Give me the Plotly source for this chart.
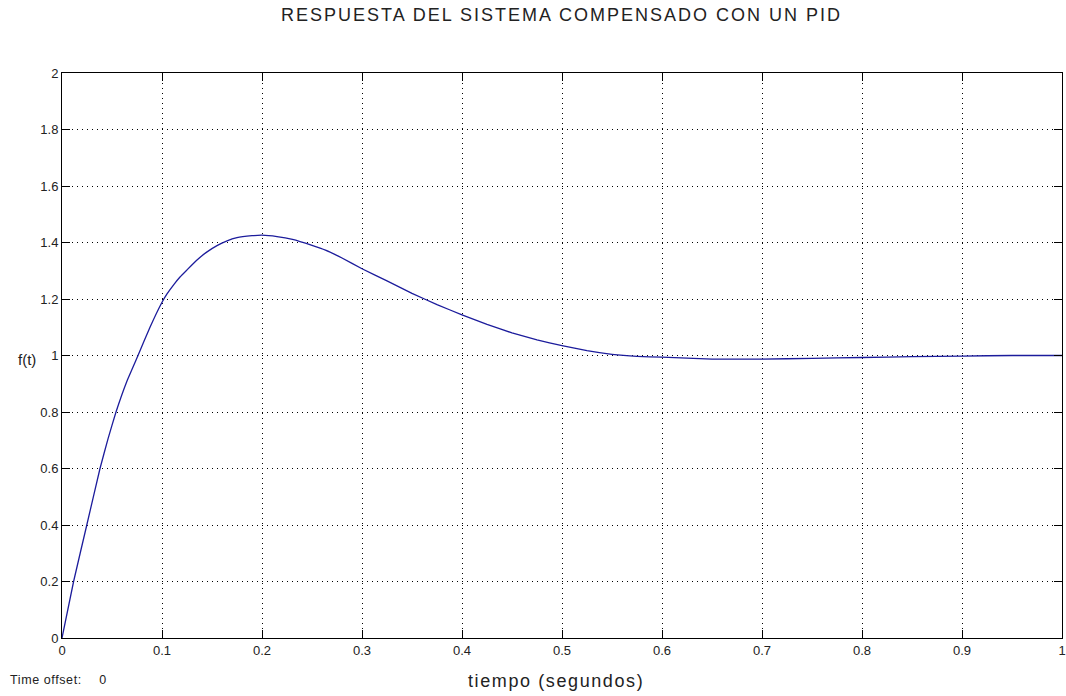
import plotly.graph_objects as go

tiempo = [0, 0.0116, 0.0248, 0.038, 0.046, 0.054, 0.065, 0.076, 0.088, 0.0995, 0.105, 0.112,
          0.118, 0.125, 0.135, 0.1447, 0.155, 0.1645, 0.175, 0.19, 0.2, 0.215, 0.2305, 0.25,
          0.2635, 0.28, 0.3, 0.325, 0.35, 0.375, 0.4, 0.425, 0.45, 0.475, 0.5, 0.525, 0.55,
          0.575, 0.6, 0.65, 0.7, 0.75, 0.8, 0.85, 0.9, 0.95, 1.0]
respuesta = [0, 0.2, 0.4, 0.6, 0.705, 0.8, 0.91, 1.0, 1.1, 1.185, 1.218, 1.252,
             1.278, 1.303, 1.338, 1.366, 1.389, 1.405, 1.417, 1.424, 1.426, 1.421, 1.411, 1.39,
             1.373, 1.345, 1.307, 1.264, 1.22, 1.18, 1.144, 1.11, 1.08,
             1.055, 1.035, 1.017, 1.004, 0.997, 0.994, 0.987, 0.987, 0.99, 0.993, 0.996, 0.998, 1.0, 1.0]

x_ticks = [0, 0.1, 0.2, 0.3, 0.4, 0.5, 0.6, 0.7, 0.8, 0.9, 1]
x_labels = ["0", "0.1", "0.2", "0.3", "0.4", "0.5", "0.6", "0.7", "0.8", "0.9", "1"]
y_ticks = [0, 0.2, 0.4, 0.6, 0.8, 1, 1.2, 1.4, 1.6, 1.8, 2]
y_labels = ["0", "0.2", "0.4", "0.6", "0.8", "1", "1.2", "1.4", "1.6", "1.8", "2"]

fig = go.Figure()
fig.add_trace(go.Scatter(x=tiempo, y=respuesta, mode="lines",
                         line=dict(color="#1c1c9c", width=1.3, shape="spline", smoothing=0.3),
                         hoverinfo="x+y", showlegend=False))

axis_common = dict(
    showline=True, linecolor="black", linewidth=1, mirror="allticks",
    ticks="inside", ticklen=8, tickcolor="black", tickwidth=1,
    showgrid=True, gridcolor="black", gridwidth=1, griddash="1px,4px",
    zeroline=False, ticklabeloverflow="allow",
    tickfont=dict(family="Liberation Sans, Arial", size=13, color="#222"),
)

fig.update_xaxes(range=[0, 1], tickvals=x_ticks, ticktext=x_labels, **axis_common)
fig.update_yaxes(range=[0, 2], tickvals=y_ticks, ticktext=y_labels, **axis_common)

W, H = 1066, 696
l, r, t, b = 62, 0, 73, 58
fig.update_layout(
    width=W, height=H,
    margin=dict(l=l, r=r, t=t, b=b),
    paper_bgcolor="white", plot_bgcolor="white",
    font=dict(family="Liberation Sans, Arial", color="#222"),
)
pw, ph = W - l - 3, H - t - b


def px(x):
    return (x - l) / pw


def py(y):
    return (H - b - y) / ph


def spaced(txt, sp):
    return '<span style="letter-spacing:%spx">%s</span>' % (sp, txt)


fig.add_annotation(text=spaced("RESPUESTA DEL SISTEMA COMPENSADO CON UN PID", 2.0),
                   x=px(562), y=py(15), xref="paper", yref="paper", showarrow=False,
                   font=dict(size=18), xanchor="center", yanchor="middle")
fig.add_annotation(text="f(t)", x=px(27), y=py(359), xref="paper", yref="paper",
                   showarrow=False, font=dict(size=15), xanchor="center", yanchor="middle")
fig.add_annotation(text=spaced("tiempo (segundos)", 1.6), x=px(556), y=py(681),
                   xref="paper", yref="paper", showarrow=False, font=dict(size=18),
                   xanchor="center", yanchor="middle")
fig.add_annotation(text=spaced("Time offset:", 0.6) + "&nbsp;&nbsp;&nbsp;&nbsp;&nbsp;0", x=px(8), y=py(680),
                   xref="paper", yref="paper", showarrow=False, font=dict(size=12.5),
                   xanchor="left", yanchor="middle")

fig.write_html("out.html", config={"displayModeBar": False},
               post_script="document.body.style.margin='0';document.body.style.overflow='hidden';")
